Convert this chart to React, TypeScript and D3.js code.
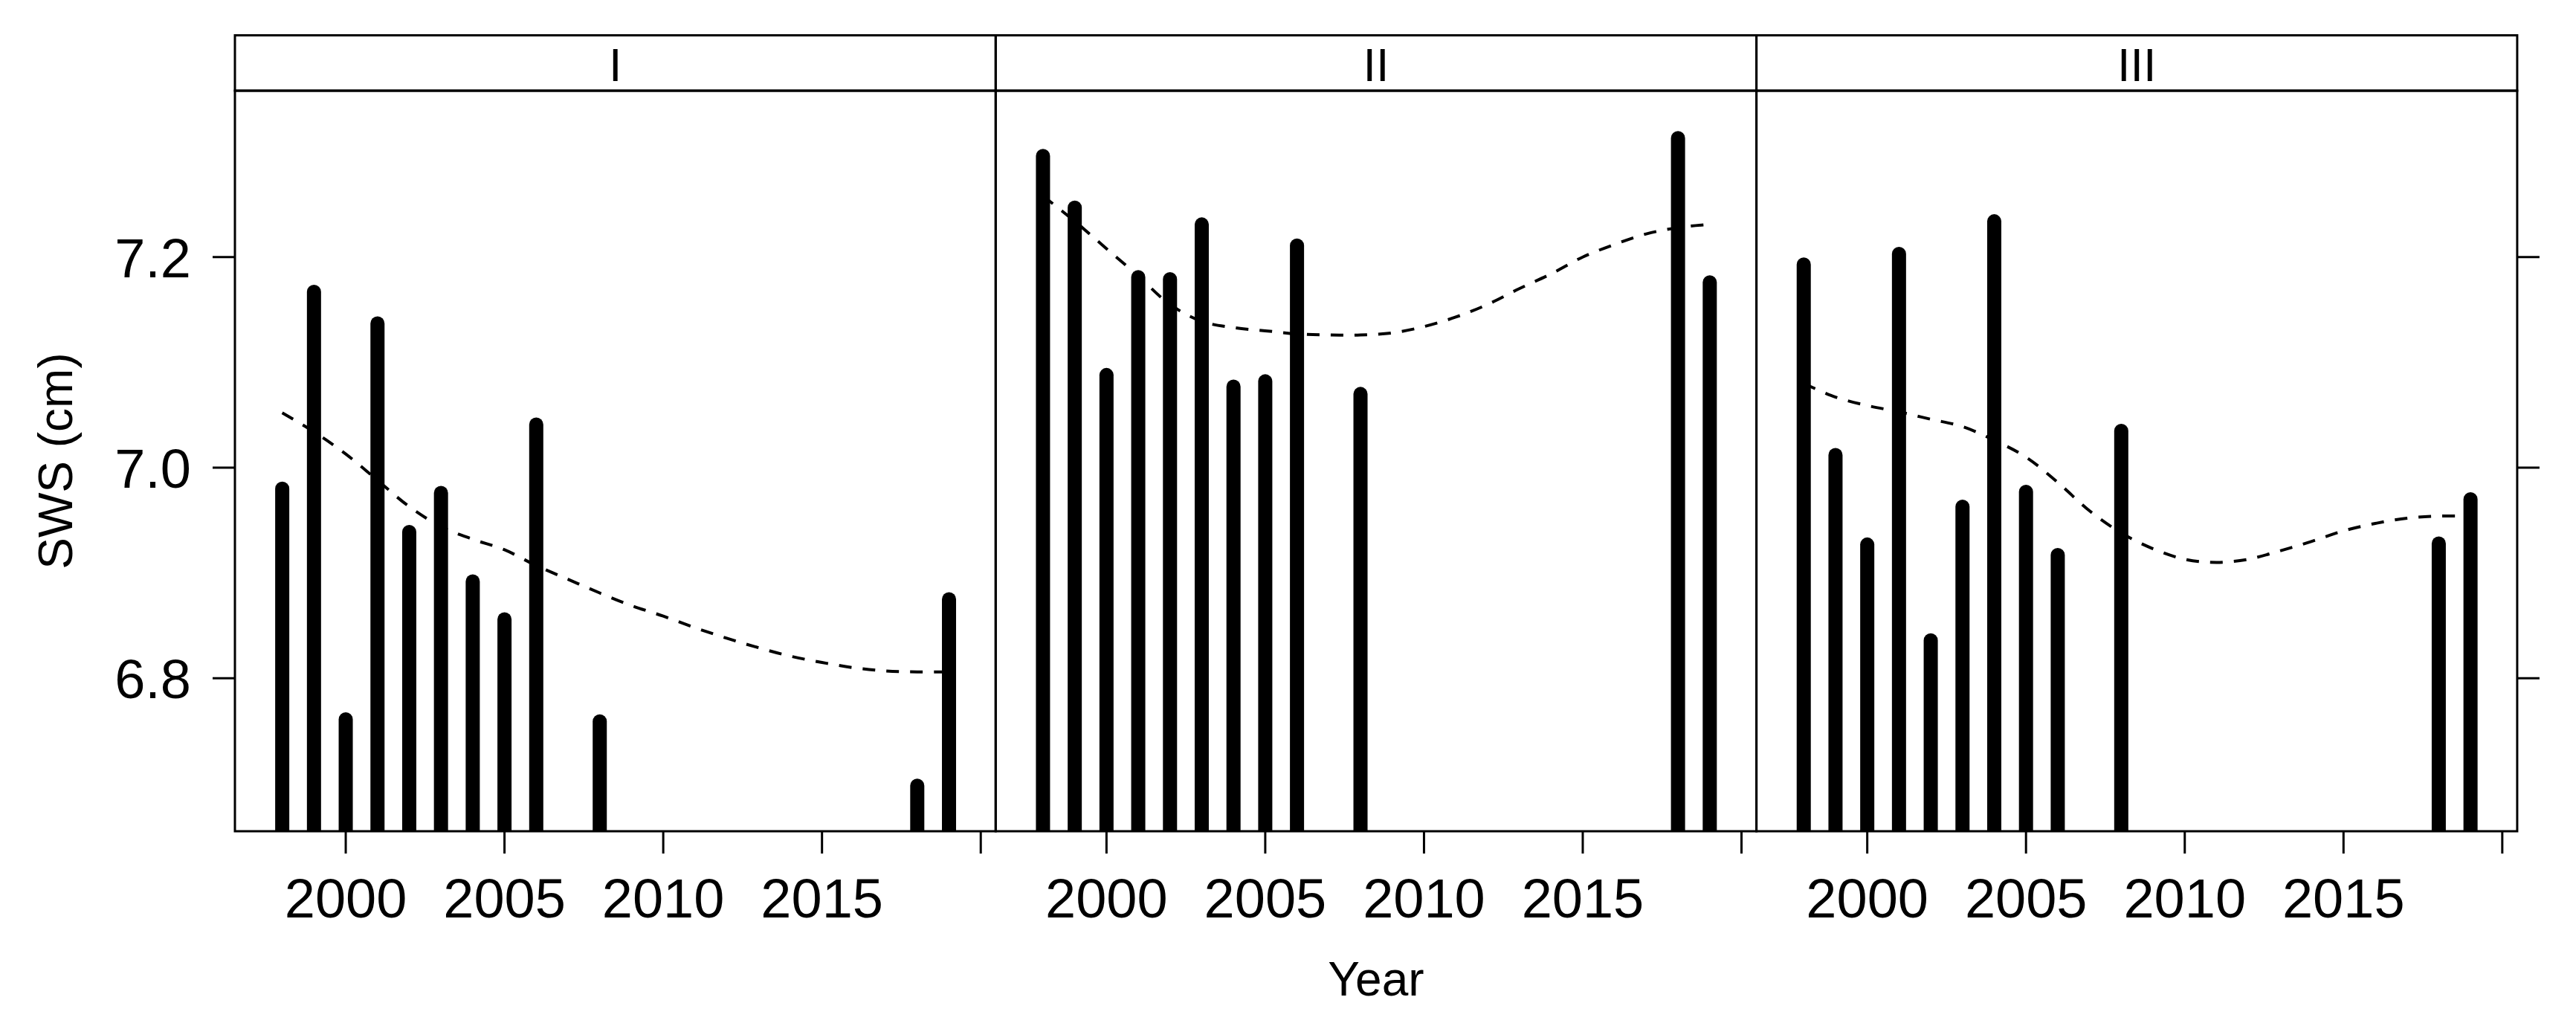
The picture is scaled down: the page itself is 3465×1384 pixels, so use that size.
import React from "react";
import * as d3 from "d3";

const PANELS = ["I", "II", "III"];
const YEARS = [1998, 1999, 2000, 2001, 2002, 2003, 2004, 2005, 2006, 2008, 2018, 2019];
const SWS_I = [6.980, 7.167, 6.761, 7.137, 6.939, 6.976, 6.892, 6.856, 7.041, 6.759, 6.698, 6.875];
const SWS_II = [7.296, 7.247, 7.088, 7.181, 7.179, 7.231, 7.077, 7.082, 7.211, 7.070, 7.313, 7.176];
const SWS_III = [7.193, 7.012, 6.927, 7.203, 6.836, 6.963, 7.234, 6.977, 6.917, 7.035, 6.928, 6.970];

const SMOOTH_YEARS = [1998, 1999, 2000, 2001, 2002, 2003, 2004, 2005, 2006, 2007, 2008, 2009, 2010, 2011, 2012, 2013, 2014, 2015, 2016, 2017, 2018, 2019];
const SMOOTH_I = [7.052, 7.034, 7.013, 6.988, 6.963, 6.944, 6.932, 6.922, 6.907, 6.894, 6.881, 6.869, 6.859, 6.848, 6.838, 6.829, 6.821, 6.815, 6.810, 6.807, 6.806, 6.806];
const SMOOTH_II = [7.258, 7.234, 7.208, 7.182, 7.155, 7.139, 7.133, 7.130, 7.127, 7.126, 7.126, 7.128, 7.134, 7.143, 7.155, 7.170, 7.184, 7.200, 7.212, 7.222, 7.228, 7.231];
const SMOOTH_III = [7.080, 7.067, 7.059, 7.053, 7.046, 7.039, 7.026, 7.010, 6.986, 6.959, 6.938, 6.923, 6.913, 6.910, 6.913, 6.921, 6.930, 6.940, 6.947, 6.952, 6.954, 6.954];

const X_TICKS = [2000, 2005, 2010, 2015, 2020];
const X_TICK_LABELS = ["2000", "2005", "2010", "2015", ""];
const Y_TICKS = [6.8, 7.0, 7.2];
const Y_TICK_LABELS = ["6.8", "7.0", "7.2"];
const X_LABEL = "Year";
const Y_LABEL = "SWS (cm)";

const SERIES = [SWS_I, SWS_II, SWS_III];
const SMOOTHS = [SMOOTH_I, SMOOTH_II, SMOOTH_III];

const W = 3465;
const H = 1384;
const LEFT = 316;
const PANEL_W = 1023.3;
const STRIP_TOP = 47.5;
const STRIP_BOTTOM = 122;
const BOTTOM = 1118;
const FONT = "'Liberation Sans', Arial, Helvetica, sans-serif";

export default function App() {
  const y = d3.scaleLinear().domain([6.6547, 7.358]).range([BOTTOM, STRIP_BOTTOM]);
  const right = LEFT + PANEL_W * 3;

  return (
    <svg
      width={W}
      height={H}
      viewBox={`0 0 ${W} ${H}`}
      style={{ position: "absolute", left: 0, top: 0, background: "#fff" }}
      fontFamily={FONT}
    >
      <rect x={0} y={0} width={W} height={H} fill="#fff" />
      <defs>
        {PANELS.map((p, i) => (
          <clipPath id={`clip${i}`} key={p}>
            <rect x={LEFT + PANEL_W * i} y={STRIP_BOTTOM} width={PANEL_W} height={BOTTOM - STRIP_BOTTOM} />
          </clipPath>
        ))}
      </defs>
      {PANELS.map((p, i) => {
        const x0 = LEFT + PANEL_W * i;
        const x = d3.scaleLinear().domain([1996.51, 2020.47]).range([x0, x0 + PANEL_W]);
        const vals = SERIES[i];
        const sm = SMOOTHS[i];
        const line = d3
          .line<number>()
          .x((_, k) => x(SMOOTH_YEARS[k]))
          .y((d) => y(d))
          .curve(d3.curveCatmullRom.alpha(0.5));
        return (
          <g key={p}>
            <g clipPath={`url(#clip${i})`}>
              {YEARS.map((yr, k) => (
                <line
                  key={yr}
                  x1={x(yr)}
                  x2={x(yr)}
                  y1={BOTTOM + 20}
                  y2={y(vals[k])}
                  stroke="#000"
                  strokeWidth={19}
                  strokeLinecap="round"
                />
              ))}
              <path
                d={line(sm) || ""}
                fill="none"
                stroke="#000"
                strokeWidth={4}
                strokeDasharray="17 15"
              />
            </g>
            {/* strip */}
            <rect x={x0} y={STRIP_TOP} width={PANEL_W} height={STRIP_BOTTOM - STRIP_TOP} fill="none" stroke="#000" strokeWidth={3} />
            <text x={x0 + PANEL_W / 2} y={109} fontSize={63} textAnchor="middle" fill="#000">
              {p}
            </text>
            {/* panel border */}
            <rect x={x0} y={STRIP_BOTTOM} width={PANEL_W} height={BOTTOM - STRIP_BOTTOM} fill="none" stroke="#000" strokeWidth={3} />
            {/* x ticks */}
            {X_TICKS.map((t, k) => (
              <g key={t}>
                <line x1={x(t)} x2={x(t)} y1={BOTTOM} y2={BOTTOM + 30} stroke="#000" strokeWidth={3} />
                {X_TICK_LABELS[k] && (
                  <text x={x(t)} y={1234} fontSize={74} textAnchor="middle" fill="#000">
                    {X_TICK_LABELS[k]}
                  </text>
                )}
              </g>
            ))}
          </g>
        );
      })}
      {/* y ticks left */}
      {Y_TICKS.map((t, k) => (
        <g key={t}>
          <line x1={LEFT - 30} x2={LEFT} y1={y(t)} y2={y(t)} stroke="#000" strokeWidth={3} />
          <text x={257} y={y(t) + 27} fontSize={74} textAnchor="end" fill="#000">
            {Y_TICK_LABELS[k]}
          </text>
          <line x1={right} x2={right + 30} y1={y(t)} y2={y(t)} stroke="#000" strokeWidth={3} />
        </g>
      ))}
      <text x={LEFT + PANEL_W * 1.5} y={1339} fontSize={64} textAnchor="middle" fill="#000">
        {X_LABEL}
      </text>
      <text
        transform={`translate(97, ${(STRIP_BOTTOM + BOTTOM) / 2}) rotate(-90)`}
        fontSize={64}
        textAnchor="middle"
        fill="#000"
      >
        {Y_LABEL}
      </text>
    </svg>
  );
}
